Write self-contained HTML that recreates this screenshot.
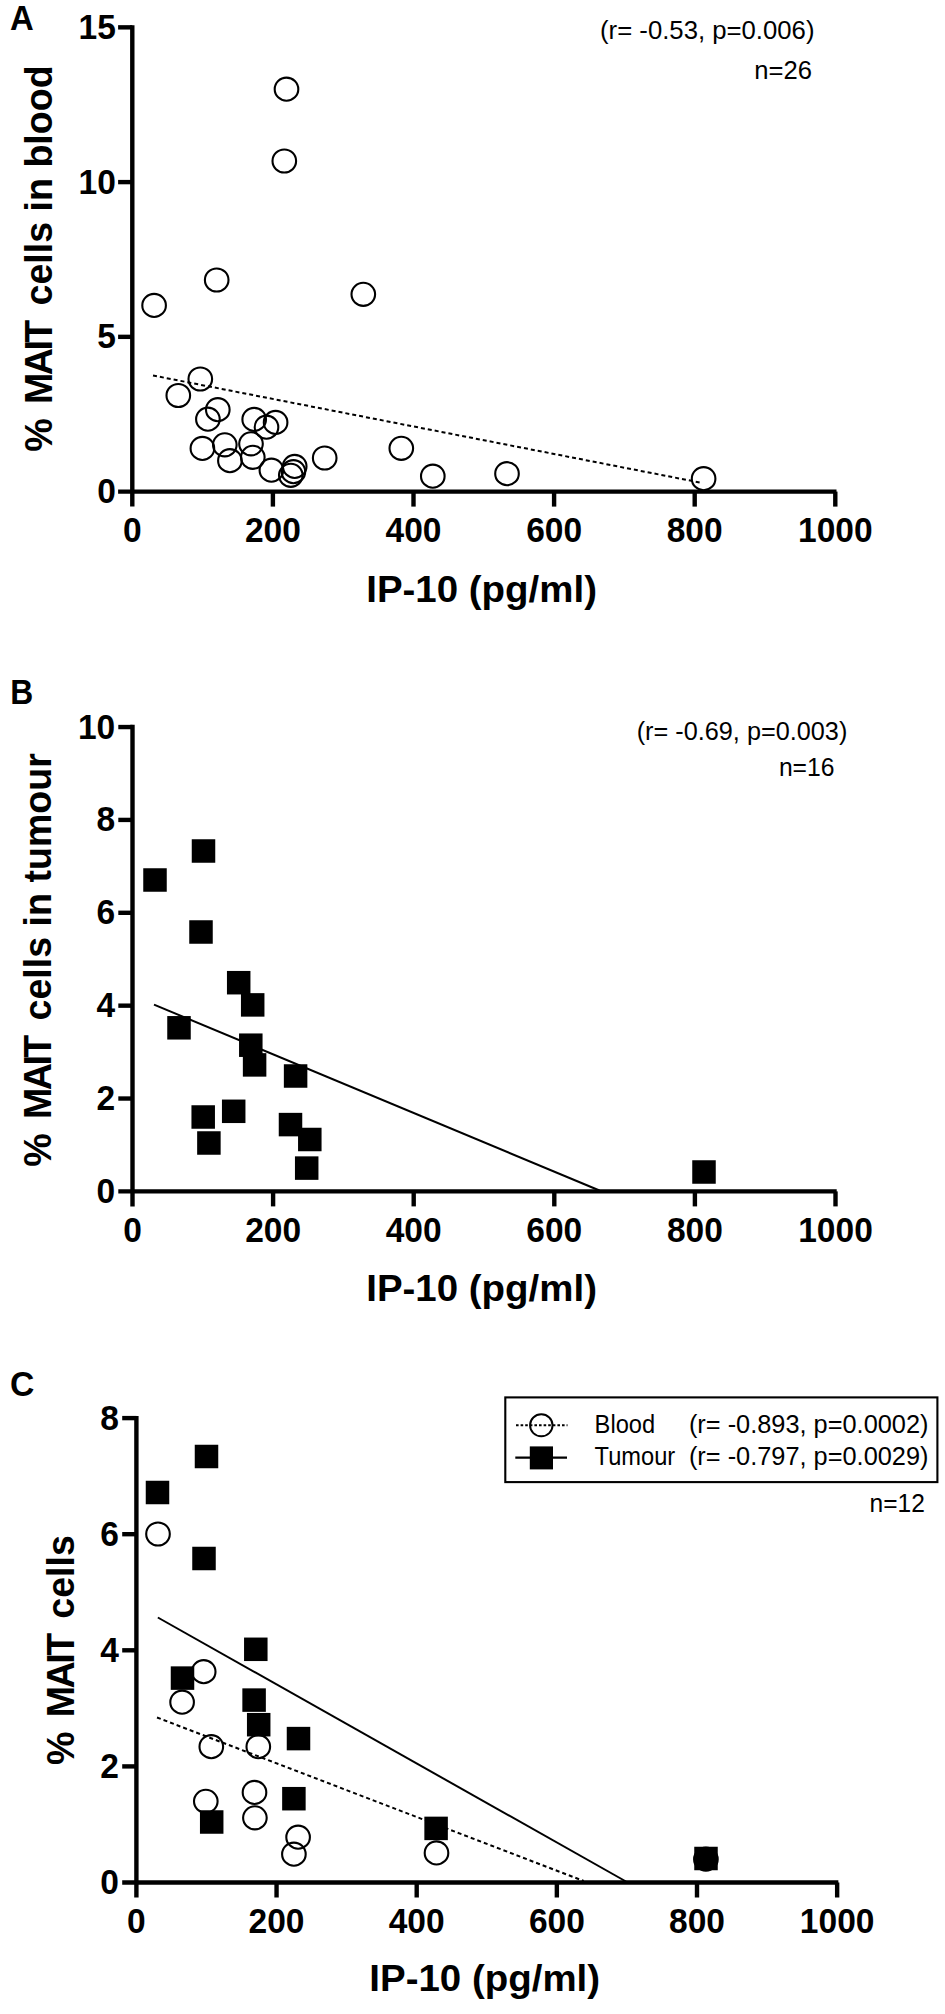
<!DOCTYPE html>
<html lang="en"><head><meta charset="utf-8"><title>MAIT cells vs IP-10</title>
<style>html,body{margin:0;padding:0;background:#fff}svg{display:block}</style></head>
<body>
<svg width="945" height="2014" viewBox="0 0 945 2014">
<rect width="945" height="2014" fill="#fff"/>
<text transform="translate(10.0,30.1) scale(0.95,1)" text-anchor="start" font-size="34.6" font-family="Liberation Sans, Arial, sans-serif" font-weight="bold">A</text>
<path d="M132.3 25.150000000000023 V506.6" stroke="#000" stroke-width="4.4" fill="none"/>
<path d="M118.10000000000001 491.6 H836.5" stroke="#000" stroke-width="4.4" fill="none"/>
<text transform="translate(132.3,541.9) scale(0.945,1)" text-anchor="middle" font-size="35.5" font-family="Liberation Sans, Arial, sans-serif" font-weight="bold">0</text>
<path d="M272.9 491.6 V506.6" stroke="#000" stroke-width="4.4"/>
<text transform="translate(272.9,541.9) scale(0.945,1)" text-anchor="middle" font-size="35.5" font-family="Liberation Sans, Arial, sans-serif" font-weight="bold">200</text>
<path d="M413.5 491.6 V506.6" stroke="#000" stroke-width="4.4"/>
<text transform="translate(413.5,541.9) scale(0.945,1)" text-anchor="middle" font-size="35.5" font-family="Liberation Sans, Arial, sans-serif" font-weight="bold">400</text>
<path d="M554.0999999999999 491.6 V506.6" stroke="#000" stroke-width="4.4"/>
<text transform="translate(554.0999999999999,541.9) scale(0.945,1)" text-anchor="middle" font-size="35.5" font-family="Liberation Sans, Arial, sans-serif" font-weight="bold">600</text>
<path d="M694.7 491.6 V506.6" stroke="#000" stroke-width="4.4"/>
<text transform="translate(694.7,541.9) scale(0.945,1)" text-anchor="middle" font-size="35.5" font-family="Liberation Sans, Arial, sans-serif" font-weight="bold">800</text>
<path d="M835.3 491.6 V506.6" stroke="#000" stroke-width="4.4"/>
<text transform="translate(835.3,541.9) scale(0.945,1)" text-anchor="middle" font-size="35.5" font-family="Liberation Sans, Arial, sans-serif" font-weight="bold">1000</text>
<text transform="translate(115.80000000000001,503.1) scale(0.945,1)" text-anchor="end" font-size="35.5" font-family="Liberation Sans, Arial, sans-serif" font-weight="bold">0</text>
<path d="M118.10000000000001 336.85 H132.3" stroke="#000" stroke-width="4.4"/>
<text transform="translate(115.80000000000001,348.35) scale(0.945,1)" text-anchor="end" font-size="35.5" font-family="Liberation Sans, Arial, sans-serif" font-weight="bold">5</text>
<path d="M118.10000000000001 182.10000000000002 H132.3" stroke="#000" stroke-width="4.4"/>
<text transform="translate(115.80000000000001,193.60000000000002) scale(0.945,1)" text-anchor="end" font-size="35.5" font-family="Liberation Sans, Arial, sans-serif" font-weight="bold">10</text>
<path d="M118.10000000000001 27.350000000000023 H132.3" stroke="#000" stroke-width="4.4"/>
<text transform="translate(115.80000000000001,38.85000000000002) scale(0.945,1)" text-anchor="end" font-size="35.5" font-family="Liberation Sans, Arial, sans-serif" font-weight="bold">15</text>
<text transform="translate(51.8,258.5) rotate(-90) scale(0.964,1)" text-anchor="middle" font-size="39" font-family="Liberation Sans, Arial, sans-serif" font-weight="bold">% <tspan dx="3.9" letter-spacing="-2.6">MAI</tspan>T<tspan dx="3.9"> cells in blood</tspan></text>
<text transform="translate(481.6,601.6) scale(1.034,1)" text-anchor="middle" font-size="37.2" font-family="Liberation Sans, Arial, sans-serif" font-weight="bold">IP-10 (pg/ml)</text>
<text transform="translate(814.5,39.2) scale(1.005,1)" text-anchor="end" font-size="25.6" font-family="Liberation Sans, Arial, sans-serif">(r= -0.53, p=0.006)</text>
<text transform="translate(812,78.8)" text-anchor="end" font-size="25.6" font-family="Liberation Sans, Arial, sans-serif">n=26</text>
<path d="M153 375.5 L700 482.5" stroke="#000" stroke-width="2" stroke-dasharray="4 3" fill="none"/>
<ellipse cx="286.5" cy="89.2" rx="11.8" ry="11.55" fill="none" stroke="#000" stroke-width="2.1"/>
<ellipse cx="284.3" cy="161" rx="11.8" ry="11.55" fill="none" stroke="#000" stroke-width="2.1"/>
<ellipse cx="216.7" cy="280" rx="11.8" ry="11.55" fill="none" stroke="#000" stroke-width="2.1"/>
<ellipse cx="154.1" cy="305.4" rx="11.8" ry="11.55" fill="none" stroke="#000" stroke-width="2.1"/>
<ellipse cx="363.3" cy="294.3" rx="11.8" ry="11.55" fill="none" stroke="#000" stroke-width="2.1"/>
<ellipse cx="200.3" cy="379" rx="11.8" ry="11.55" fill="none" stroke="#000" stroke-width="2.1"/>
<ellipse cx="178.3" cy="395.5" rx="11.8" ry="11.55" fill="none" stroke="#000" stroke-width="2.1"/>
<ellipse cx="217.8" cy="409.7" rx="11.8" ry="11.55" fill="none" stroke="#000" stroke-width="2.1"/>
<ellipse cx="207.9" cy="419.2" rx="11.8" ry="11.55" fill="none" stroke="#000" stroke-width="2.1"/>
<ellipse cx="254.2" cy="419.4" rx="11.8" ry="11.55" fill="none" stroke="#000" stroke-width="2.1"/>
<ellipse cx="275.6" cy="422.4" rx="11.8" ry="11.55" fill="none" stroke="#000" stroke-width="2.1"/>
<ellipse cx="266.5" cy="427.2" rx="11.8" ry="11.55" fill="none" stroke="#000" stroke-width="2.1"/>
<ellipse cx="202.4" cy="448.4" rx="11.8" ry="11.55" fill="none" stroke="#000" stroke-width="2.1"/>
<ellipse cx="224.8" cy="444.8" rx="11.8" ry="11.55" fill="none" stroke="#000" stroke-width="2.1"/>
<ellipse cx="251" cy="443.8" rx="11.8" ry="11.55" fill="none" stroke="#000" stroke-width="2.1"/>
<ellipse cx="229.9" cy="460.7" rx="11.8" ry="11.55" fill="none" stroke="#000" stroke-width="2.1"/>
<ellipse cx="252.8" cy="457.3" rx="11.8" ry="11.55" fill="none" stroke="#000" stroke-width="2.1"/>
<ellipse cx="271.4" cy="470.2" rx="11.8" ry="11.55" fill="none" stroke="#000" stroke-width="2.1"/>
<ellipse cx="294.7" cy="466.4" rx="11.8" ry="11.55" fill="none" stroke="#000" stroke-width="2.1"/>
<ellipse cx="293.4" cy="471.7" rx="11.8" ry="11.55" fill="none" stroke="#000" stroke-width="2.1"/>
<ellipse cx="290.8" cy="475.3" rx="11.8" ry="11.55" fill="none" stroke="#000" stroke-width="2.1"/>
<ellipse cx="324.7" cy="458" rx="11.8" ry="11.55" fill="none" stroke="#000" stroke-width="2.1"/>
<ellipse cx="401.3" cy="448.3" rx="11.8" ry="11.55" fill="none" stroke="#000" stroke-width="2.1"/>
<ellipse cx="432.8" cy="476.2" rx="11.8" ry="11.55" fill="none" stroke="#000" stroke-width="2.1"/>
<ellipse cx="507" cy="473.7" rx="11.8" ry="11.55" fill="none" stroke="#000" stroke-width="2.1"/>
<ellipse cx="703.6" cy="478.7" rx="11.8" ry="11.55" fill="none" stroke="#000" stroke-width="2.1"/>
<text transform="translate(10.2,704) scale(0.92,1)" text-anchor="start" font-size="34.6" font-family="Liberation Sans, Arial, sans-serif" font-weight="bold">B</text>
<path d="M132.5 724.85 V1206.4" stroke="#000" stroke-width="4.4" fill="none"/>
<path d="M118.3 1191.4 H836.7" stroke="#000" stroke-width="4.4" fill="none"/>
<text transform="translate(132.5,1241.7) scale(0.945,1)" text-anchor="middle" font-size="35.5" font-family="Liberation Sans, Arial, sans-serif" font-weight="bold">0</text>
<path d="M273.1 1191.4 V1206.4" stroke="#000" stroke-width="4.4"/>
<text transform="translate(273.1,1241.7) scale(0.945,1)" text-anchor="middle" font-size="35.5" font-family="Liberation Sans, Arial, sans-serif" font-weight="bold">200</text>
<path d="M413.7 1191.4 V1206.4" stroke="#000" stroke-width="4.4"/>
<text transform="translate(413.7,1241.7) scale(0.945,1)" text-anchor="middle" font-size="35.5" font-family="Liberation Sans, Arial, sans-serif" font-weight="bold">400</text>
<path d="M554.3 1191.4 V1206.4" stroke="#000" stroke-width="4.4"/>
<text transform="translate(554.3,1241.7) scale(0.945,1)" text-anchor="middle" font-size="35.5" font-family="Liberation Sans, Arial, sans-serif" font-weight="bold">600</text>
<path d="M694.9 1191.4 V1206.4" stroke="#000" stroke-width="4.4"/>
<text transform="translate(694.9,1241.7) scale(0.945,1)" text-anchor="middle" font-size="35.5" font-family="Liberation Sans, Arial, sans-serif" font-weight="bold">800</text>
<path d="M835.5 1191.4 V1206.4" stroke="#000" stroke-width="4.4"/>
<text transform="translate(835.5,1241.7) scale(0.945,1)" text-anchor="middle" font-size="35.5" font-family="Liberation Sans, Arial, sans-serif" font-weight="bold">1000</text>
<text transform="translate(115.2,1202.9) scale(0.945,1)" text-anchor="end" font-size="35.5" font-family="Liberation Sans, Arial, sans-serif" font-weight="bold">0</text>
<path d="M118.3 1098.5300000000002 H132.5" stroke="#000" stroke-width="4.4"/>
<text transform="translate(115.2,1110.0300000000002) scale(0.945,1)" text-anchor="end" font-size="35.5" font-family="Liberation Sans, Arial, sans-serif" font-weight="bold">2</text>
<path d="M118.3 1005.6600000000001 H132.5" stroke="#000" stroke-width="4.4"/>
<text transform="translate(115.2,1017.1600000000001) scale(0.945,1)" text-anchor="end" font-size="35.5" font-family="Liberation Sans, Arial, sans-serif" font-weight="bold">4</text>
<path d="M118.3 912.7900000000001 H132.5" stroke="#000" stroke-width="4.4"/>
<text transform="translate(115.2,924.2900000000001) scale(0.945,1)" text-anchor="end" font-size="35.5" font-family="Liberation Sans, Arial, sans-serif" font-weight="bold">6</text>
<path d="M118.3 819.9200000000001 H132.5" stroke="#000" stroke-width="4.4"/>
<text transform="translate(115.2,831.4200000000001) scale(0.945,1)" text-anchor="end" font-size="35.5" font-family="Liberation Sans, Arial, sans-serif" font-weight="bold">8</text>
<path d="M118.3 727.0500000000001 H132.5" stroke="#000" stroke-width="4.4"/>
<text transform="translate(115.2,738.5500000000001) scale(0.945,1)" text-anchor="end" font-size="35.5" font-family="Liberation Sans, Arial, sans-serif" font-weight="bold">10</text>
<text transform="translate(50.8,959.9) rotate(-90) scale(0.964,1)" text-anchor="middle" font-size="39" font-family="Liberation Sans, Arial, sans-serif" font-weight="bold">% <tspan dx="3.9" letter-spacing="-2.6">MAI</tspan>T<tspan dx="3.9"> cells in tumour</tspan></text>
<text transform="translate(481.6,1301.1) scale(1.034,1)" text-anchor="middle" font-size="37.2" font-family="Liberation Sans, Arial, sans-serif" font-weight="bold">IP-10 (pg/ml)</text>
<text transform="translate(847.3,740) scale(0.987,1)" text-anchor="end" font-size="25.6" font-family="Liberation Sans, Arial, sans-serif">(r= -0.69, p=0.003)</text>
<text transform="translate(834.5,775.8) scale(0.965,1)" text-anchor="end" font-size="25.6" font-family="Liberation Sans, Arial, sans-serif">n=16</text>
<path d="M154 1004.6 L599.5 1190.5" stroke="#000" stroke-width="2.0" fill="none"/>
<rect x="143.25" y="868.25" width="23.5" height="23.5" fill="#000"/>
<rect x="191.75" y="839.25" width="23.5" height="23.5" fill="#000"/>
<rect x="189.25" y="920.25" width="23.5" height="23.5" fill="#000"/>
<rect x="226.95" y="970.95" width="23.5" height="23.5" fill="#000"/>
<rect x="240.95" y="993.15" width="23.5" height="23.5" fill="#000"/>
<rect x="167.25" y="1016.05" width="23.5" height="23.5" fill="#000"/>
<rect x="239.05" y="1033.45" width="23.5" height="23.5" fill="#000"/>
<rect x="242.85" y="1053.15" width="23.5" height="23.5" fill="#000"/>
<rect x="283.85" y="1064.25" width="23.5" height="23.5" fill="#000"/>
<rect x="191.45" y="1105.25" width="23.5" height="23.5" fill="#000"/>
<rect x="221.95" y="1099.55" width="23.5" height="23.5" fill="#000"/>
<rect x="197.15" y="1131.25" width="23.5" height="23.5" fill="#000"/>
<rect x="278.75" y="1112.85" width="23.5" height="23.5" fill="#000"/>
<rect x="298.05" y="1127.75" width="23.5" height="23.5" fill="#000"/>
<rect x="294.95" y="1156.35" width="23.5" height="23.5" fill="#000"/>
<rect x="692.25" y="1160.25" width="23.5" height="23.5" fill="#000"/>
<text transform="translate(10.1,1395.7) scale(0.97,1)" text-anchor="start" font-size="34.8" font-family="Liberation Sans, Arial, sans-serif" font-weight="bold">C</text>
<path d="M136.4 1415.8999999999999 V1897.5" stroke="#000" stroke-width="4.4" fill="none"/>
<path d="M122.2 1882.5 H838.35" stroke="#000" stroke-width="4.4" fill="none"/>
<text transform="translate(136.4,1932.8) scale(0.945,1)" text-anchor="middle" font-size="35.5" font-family="Liberation Sans, Arial, sans-serif" font-weight="bold">0</text>
<path d="M276.55 1882.5 V1897.5" stroke="#000" stroke-width="4.4"/>
<text transform="translate(276.55,1932.8) scale(0.945,1)" text-anchor="middle" font-size="35.5" font-family="Liberation Sans, Arial, sans-serif" font-weight="bold">200</text>
<path d="M416.70000000000005 1882.5 V1897.5" stroke="#000" stroke-width="4.4"/>
<text transform="translate(416.70000000000005,1932.8) scale(0.945,1)" text-anchor="middle" font-size="35.5" font-family="Liberation Sans, Arial, sans-serif" font-weight="bold">400</text>
<path d="M556.85 1882.5 V1897.5" stroke="#000" stroke-width="4.4"/>
<text transform="translate(556.85,1932.8) scale(0.945,1)" text-anchor="middle" font-size="35.5" font-family="Liberation Sans, Arial, sans-serif" font-weight="bold">600</text>
<path d="M697.0 1882.5 V1897.5" stroke="#000" stroke-width="4.4"/>
<text transform="translate(697.0,1932.8) scale(0.945,1)" text-anchor="middle" font-size="35.5" font-family="Liberation Sans, Arial, sans-serif" font-weight="bold">800</text>
<path d="M837.15 1882.5 V1897.5" stroke="#000" stroke-width="4.4"/>
<text transform="translate(837.15,1932.8) scale(0.945,1)" text-anchor="middle" font-size="35.5" font-family="Liberation Sans, Arial, sans-serif" font-weight="bold">1000</text>
<text transform="translate(118.80000000000001,1894.0) scale(0.945,1)" text-anchor="end" font-size="35.5" font-family="Liberation Sans, Arial, sans-serif" font-weight="bold">0</text>
<path d="M122.2 1766.4 H136.4" stroke="#000" stroke-width="4.4"/>
<text transform="translate(118.80000000000001,1777.9) scale(0.945,1)" text-anchor="end" font-size="35.5" font-family="Liberation Sans, Arial, sans-serif" font-weight="bold">2</text>
<path d="M122.2 1650.3 H136.4" stroke="#000" stroke-width="4.4"/>
<text transform="translate(118.80000000000001,1661.8) scale(0.945,1)" text-anchor="end" font-size="35.5" font-family="Liberation Sans, Arial, sans-serif" font-weight="bold">4</text>
<path d="M122.2 1534.2 H136.4" stroke="#000" stroke-width="4.4"/>
<text transform="translate(118.80000000000001,1545.7) scale(0.945,1)" text-anchor="end" font-size="35.5" font-family="Liberation Sans, Arial, sans-serif" font-weight="bold">6</text>
<path d="M122.2 1418.1 H136.4" stroke="#000" stroke-width="4.4"/>
<text transform="translate(118.80000000000001,1429.6) scale(0.945,1)" text-anchor="end" font-size="35.5" font-family="Liberation Sans, Arial, sans-serif" font-weight="bold">8</text>
<text transform="translate(74,1650) rotate(-90) scale(0.964,1)" text-anchor="middle" font-size="39" font-family="Liberation Sans, Arial, sans-serif" font-weight="bold">% <tspan dx="3.9" letter-spacing="-2.6">MAI</tspan>T<tspan dx="3.9"> cells</tspan></text>
<text transform="translate(484.7,1990.8) scale(1.034,1)" text-anchor="middle" font-size="37.2" font-family="Liberation Sans, Arial, sans-serif" font-weight="bold">IP-10 (pg/ml)</text>
<path d="M157 1717.5 L583.7 1881" stroke="#000" stroke-width="2" stroke-dasharray="4 3" fill="none"/>
<path d="M157.85 1617.5 L626 1881.5" stroke="#000" stroke-width="2.0" fill="none"/>
<ellipse cx="158" cy="1534" rx="11.8" ry="11.55" fill="none" stroke="#000" stroke-width="2.1"/>
<ellipse cx="203.7" cy="1671.7" rx="11.8" ry="11.55" fill="none" stroke="#000" stroke-width="2.1"/>
<ellipse cx="182.1" cy="1702.2" rx="11.8" ry="11.55" fill="none" stroke="#000" stroke-width="2.1"/>
<ellipse cx="211.3" cy="1746.7" rx="11.8" ry="11.55" fill="none" stroke="#000" stroke-width="2.1"/>
<ellipse cx="258.3" cy="1746.7" rx="11.8" ry="11.55" fill="none" stroke="#000" stroke-width="2.1"/>
<ellipse cx="205.8" cy="1801.3" rx="11.8" ry="11.55" fill="none" stroke="#000" stroke-width="2.1"/>
<ellipse cx="254.5" cy="1792.4" rx="11.8" ry="11.55" fill="none" stroke="#000" stroke-width="2.1"/>
<ellipse cx="254.9" cy="1817.8" rx="11.8" ry="11.55" fill="none" stroke="#000" stroke-width="2.1"/>
<ellipse cx="298.1" cy="1837.2" rx="11.8" ry="11.55" fill="none" stroke="#000" stroke-width="2.1"/>
<ellipse cx="293.9" cy="1854.2" rx="11.8" ry="11.55" fill="none" stroke="#000" stroke-width="2.1"/>
<ellipse cx="436.5" cy="1852.9" rx="11.8" ry="11.55" fill="none" stroke="#000" stroke-width="2.1"/>
<ellipse cx="705.9" cy="1859.2" rx="11.8" ry="11.55" fill="none" stroke="#000" stroke-width="2.1"/>
<rect x="145.75" y="1480.75" width="23.5" height="23.5" fill="#000"/>
<rect x="194.75" y="1444.75" width="23.5" height="23.5" fill="#000"/>
<rect x="192.25" y="1546.75" width="23.5" height="23.5" fill="#000"/>
<rect x="244.05" y="1637.55" width="23.5" height="23.5" fill="#000"/>
<rect x="170.75" y="1666.35" width="23.5" height="23.5" fill="#000"/>
<rect x="242.35" y="1688.35" width="23.5" height="23.5" fill="#000"/>
<rect x="246.95" y="1712.95" width="23.5" height="23.5" fill="#000"/>
<rect x="286.75" y="1726.85" width="23.5" height="23.5" fill="#000"/>
<rect x="282.15" y="1786.95" width="23.5" height="23.5" fill="#000"/>
<rect x="199.95" y="1810.25" width="23.5" height="23.5" fill="#000"/>
<rect x="424.35" y="1816.65" width="23.5" height="23.5" fill="#000"/>
<rect x="694.25" y="1846.75" width="23.5" height="23.5" fill="#000"/>
<rect x="505.3" y="1397.4" width="432.1" height="84.7" fill="#fff" stroke="#000" stroke-width="2.1"/>
<ellipse cx="541.3" cy="1425.3" rx="11.25" ry="11.0" fill="#fff" stroke="#000" stroke-width="1.9"/>
<path d="M516 1425.3 H567.5" stroke="#000" stroke-width="2" stroke-dasharray="2.6 2"/>
<path d="M515.3 1457.7 H567" stroke="#000" stroke-width="2.2"/>
<rect x="529.8" y="1446.4" width="23.2" height="23" fill="#000"/>
<text transform="translate(594.6,1433) scale(0.925,1)" text-anchor="start" font-size="25.6" font-family="Liberation Sans, Arial, sans-serif">Blood</text>
<text transform="translate(594.6,1465.3) scale(0.925,1)" text-anchor="start" font-size="25.6" font-family="Liberation Sans, Arial, sans-serif">Tumour</text>
<text transform="translate(688.9,1433) scale(0.991,1)" text-anchor="start" font-size="25.6" font-family="Liberation Sans, Arial, sans-serif">(r= -0.893, p=0.0002)</text>
<text transform="translate(688.9,1465.3) scale(0.991,1)" text-anchor="start" font-size="25.6" font-family="Liberation Sans, Arial, sans-serif">(r= -0.797, p=0.0029)</text>
<text transform="translate(924.8,1511.8) scale(0.975,1)" text-anchor="end" font-size="25.2" font-family="Liberation Sans, Arial, sans-serif">n=12</text>
</svg>
</body></html>
